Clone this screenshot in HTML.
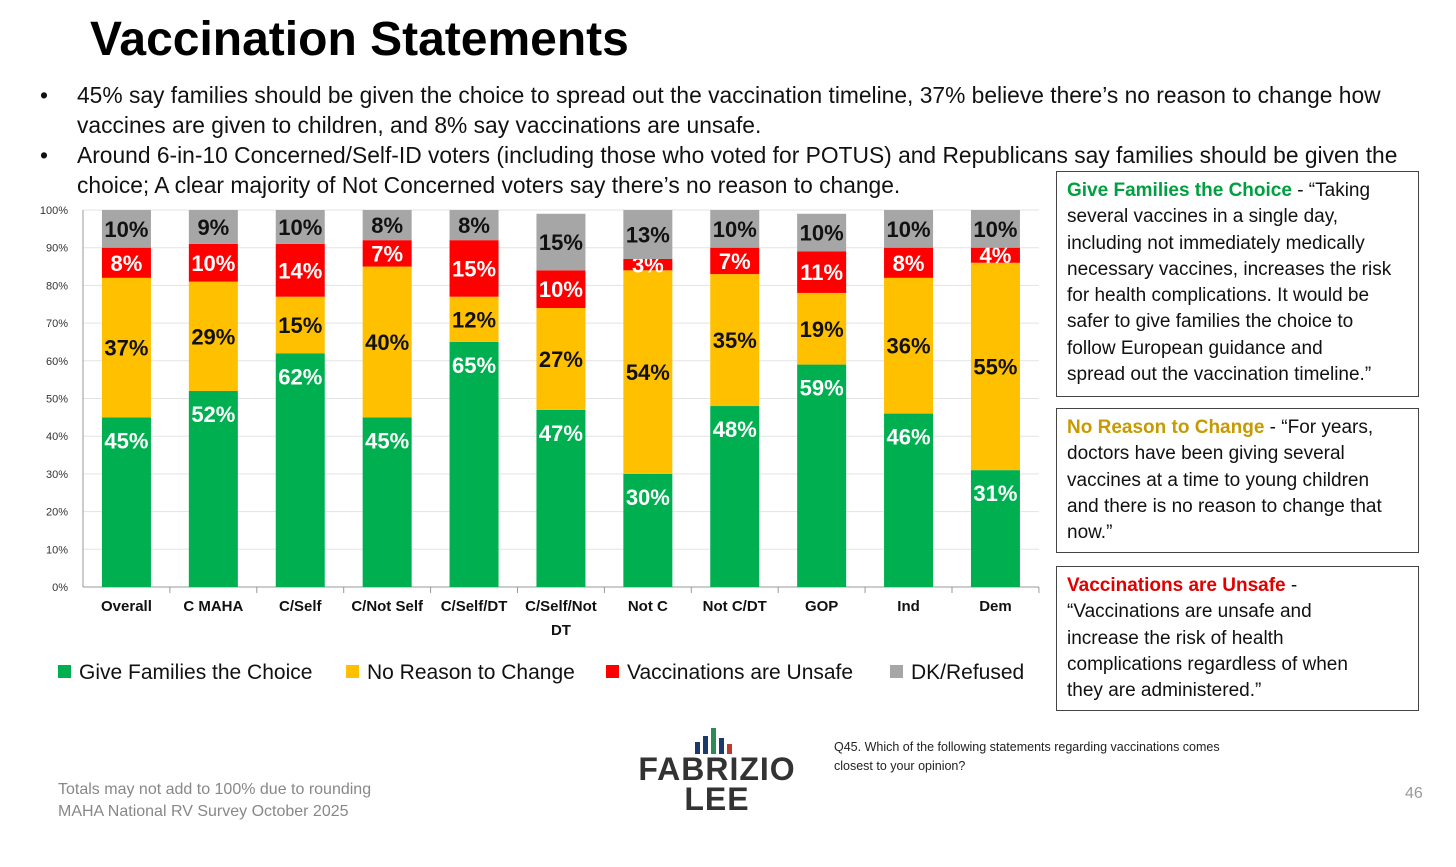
<!DOCTYPE html>
<html><head><meta charset="utf-8"><style>
body{margin:0;width:1456px;height:867px;background:#fff;font-family:"Liberation Sans",sans-serif;position:relative;overflow:hidden}
.abs{position:absolute}
.title{left:90px;top:12px;font-size:48px;font-weight:bold;color:#000}
.bul{left:40px;font-size:22.8px;color:#111;line-height:30px;width:1400px;white-space:nowrap}
.bul span{position:absolute;left:0}
.bul div{margin-left:37px}
.box{position:absolute;left:1056px;width:345px;border:1.5px solid #444;padding:6px 6px 6px 10px;font-size:19px;line-height:26.3px;color:#111;white-space:nowrap}
.leg{top:661px;font-size:21px;color:#111}
.sw{display:inline-block;width:13px;height:13px;margin-right:8px;vertical-align:1px}
</style></head><body>
<div class="abs title">Vaccination Statements</div>
<div class="abs bul" style="top:80px"><span>•</span><div>45% say families should be given the choice to spread out the vaccination timeline, 37% believe there’s no reason to change how<br>vaccines are given to children, and 8% say vaccinations are unsafe.</div></div>
<div class="abs bul" style="top:140px"><span>•</span><div>Around 6-in-10 Concerned/Self-ID voters (including those who voted for POTUS) and Republicans say families should be given the<br>choice; A clear majority of Not Concerned voters say there’s no reason to change.</div></div>

<svg class="abs" style="left:0;top:195px" width="1050" height="450"><g id="g"></g></svg>

<div class="abs leg" style="left:58px"><span class="sw" style="background:#00b050"></span>Give Families the Choice</div>
<div class="abs leg" style="left:346px"><span class="sw" style="background:#ffc000"></span>No Reason to Change</div>
<div class="abs leg" style="left:606px"><span class="sw" style="background:#ff0000"></span>Vaccinations are Unsafe</div>
<div class="abs leg" style="left:890px"><span class="sw" style="background:#a6a6a6"></span>DK/Refused</div>

<div class="box" style="top:171px;height:212px"><b style="color:#00a040">Give Families the Choice</b> - “Taking<br>several vaccines in a single day,<br>including not immediately medically<br>necessary vaccines, increases the risk<br>for health complications. It would be<br>safer to give families the choice to<br>follow European guidance and<br>spread out the vaccination timeline.”</div>
<div class="box" style="top:408px;height:131px"><b style="color:#c89a00">No Reason to Change</b> - “For years,<br>doctors have been giving several<br>vaccines at a time to young children<br>and there is no reason to change that<br>now.”</div>
<div class="box" style="top:566px;height:131px"><b style="color:#e00000">Vaccinations are Unsafe</b> -<br>“Vaccinations are unsafe and<br>increase the risk of health<br>complications regardless of when<br>they are administered.”</div>

<div class="abs" style="left:58px;top:779px;font-size:16px;color:#888;line-height:22px">Totals may not add to 100% due to rounding<br>MAHA National RV Survey October 2025</div>
<div class="abs" style="left:834px;top:738px;font-size:12.5px;color:#222;line-height:19px;white-space:nowrap">Q45. Which of the following statements regarding vaccinations comes<br>closest to your opinion?</div>
<div class="abs" style="left:1405px;top:785px;font-size:16px;color:#999">46</div>
<div class="abs" style="left:628px;top:728px;width:178px;text-align:center">
<svg width="60" height="26" style="display:block;margin:0 auto"><rect x="8" y="14" width="5" height="12" fill="#1a3a6b"/><rect x="16" y="8" width="5" height="18" fill="#1a3a6b"/><rect x="24" y="0" width="5" height="26" fill="#2e8b57"/><rect x="32" y="10" width="5" height="16" fill="#1a3a6b"/><rect x="40" y="16" width="5" height="10" fill="#c0392b"/></svg>
<div style="font-size:32px;font-weight:bold;color:#333;line-height:30px;letter-spacing:1px">FABRIZIO<br>LEE</div></div>

<script>
const categories=["Overall","C MAHA","C/Self","C/Not Self","C/Self/DT","C/Self/Not DT","Not C","Not C/DT","GOP","Ind","Dem"];
const giveChoice=[45,52,62,45,65,47,30,48,59,46,31];
const noReason=[37,29,15,40,12,27,54,35,19,36,55];
const unsafe=[8,10,14,7,15,10,3,7,11,8,4];
const dkRefused=[10,9,10,8,8,15,13,10,10,10,10];
const yTicks=[0,10,20,30,40,50,60,70,80,90,100];
const ns="http://www.w3.org/2000/svg",g=document.getElementById('g');
const y0=392,yTop=15,x0=83,step=86.9;
const y=v=>y0-(y0-yTop)*Math.min(v,100)/100;
const xc=i=>x0+step*(i+0.5);
function mk(t,a){const e=document.createElementNS(ns,t);for(const k in a)e.setAttribute(k,a[k]);g.appendChild(e);return e;}
yTicks.forEach(t=>{
 const l=mk('line',{x1:x0,x2:x0+step*11,y1:y(t),y2:y(t),stroke:t?'#e3e3e3':'#999','stroke-width':1});
 
 
 const tx=mk('text',{x:68,y:y(t)+4,'font-size':11,'text-anchor':'end',fill:'#333','font-family':'Liberation Sans'});tx.textContent=t+'%';
 
 
});
mk('line',{x1:x0,x2:x0,y1:yTop,y2:y0,stroke:'#999'});
const series=[[giveChoice,'#00b050','#fff','give'],[noReason,'#ffc000','#111','noreason'],[unsafe,'#ff0000','#fff','unsafe'],[dkRefused,'#a6a6a6','#111','dk']];
categories.forEach((c,i)=>{
 mk('line',{x1:x0+step*(i+1),x2:x0+step*(i+1),y1:y0,y2:y0+6,stroke:'#999'});
 let acc=0;const w=49;
 series.forEach(([arr,col,tc,nm],si)=>{
  const v=arr[i],top=y(acc+v),bot=y(acc);
  const r=mk('rect',{x:xc(i)-w/2,y:top,width:w,height:Math.max(0,bot-top),fill:col});
  
  
  const ly=si==0?top+31:(top+bot)/2+8;
  const t=mk('text',{x:xc(i),y:ly,'font-size':22,'font-weight':'bold','text-anchor':'middle',fill:tc,'font-family':'Liberation Sans'});
  t.textContent=v+'%';
  
  
  acc+=v;
 });
 const parts=c==="C/Self/Not DT"?["C/Self/Not","DT"]:[c];
 parts.forEach((p,k)=>{
  const t=mk('text',{x:xc(i),y:y0+24+k*24,'font-size':15,'font-weight':'bold','text-anchor':'middle',fill:'#111','font-family':'Liberation Sans'});
  t.textContent=p;
  
  
 });
});
</script>
</body></html>
